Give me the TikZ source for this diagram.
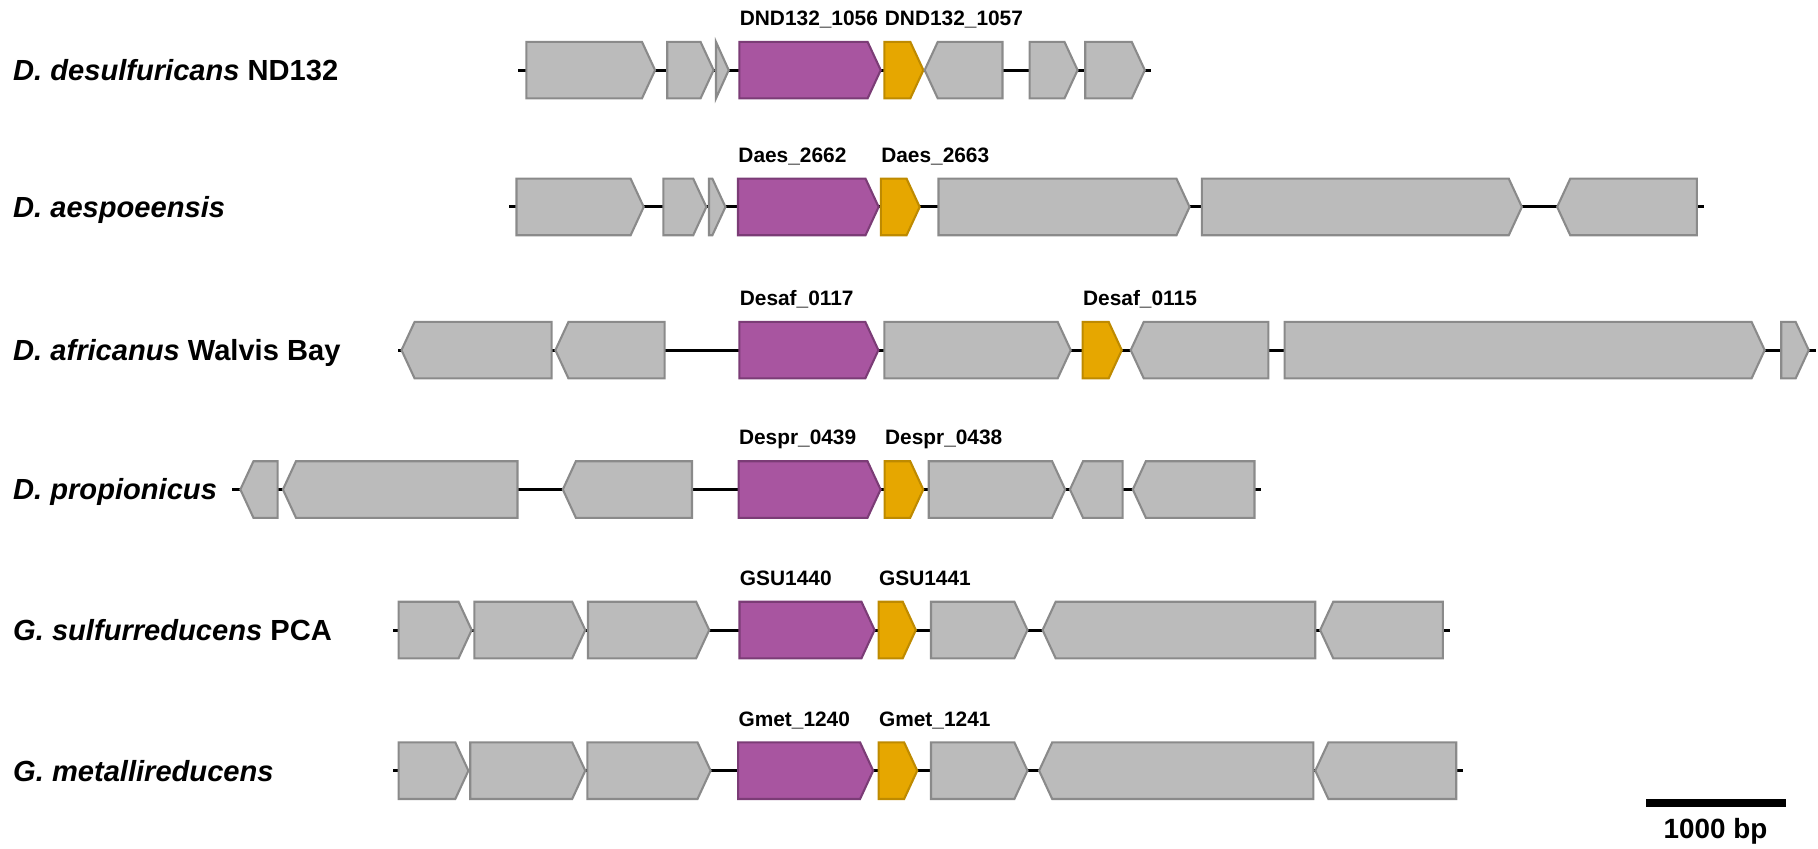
\documentclass[tikz,border=0pt]{standalone}
\usepackage{fontspec}
\setmainfont{Liberation Sans}
\usetikzlibrary{positioning}
\definecolor{genegray}{HTML}{BBBBBB}
\definecolor{edgegray}{HTML}{8A8A8A}
\definecolor{hydpurple}{HTML}{A855A0}
\definecolor{hydpurpleedge}{HTML}{7B3C76}
\definecolor{hydorange}{HTML}{E6A700}
\definecolor{hydorangeedge}{HTML}{BE8A00}

% forward / reverse gene arrow: style, left x, right x, row y
\newcommand{\gfwd}[4]{%
  \pgfmathsetmacro{\gsh}{max(#2,#3-11.3)}
  \draw[#1] (#2,#4-24.4) -- (\gsh,#4-24.4) -- (#3,#4) -- (\gsh,#4+24.4) -- (#2,#4+24.4) -- cycle;}
\newcommand{\grev}[4]{%
  \pgfmathsetmacro{\gsh}{min(#3,#2+11.3)}
  \draw[#1] (#3,#4-24.4) -- (\gsh,#4-24.4) -- (#2,#4) -- (\gsh,#4+24.4) -- (#3,#4+24.4) -- cycle;}

\begin{document}
\begin{tikzpicture}[x=0.5pt, y=-0.5pt,
  othergene/.style={fill=genegray, draw=edgegray, line width=0.9pt, line join=miter},
  purplegene/.style={fill=hydpurple, draw=hydpurpleedge, line width=0.9pt},
  orangegene/.style={fill=hydorange, draw=hydorangeedge, line width=0.9pt},
  backbone/.style={line width=1.3pt, black},
  species/.style={font=\fontsize{12.55}{14}\selectfont\bfseries, anchor=base west, inner sep=0pt},
  genelab/.style={font=\fontsize{9}{11}\selectfont\bfseries, anchor=base west, inner sep=0pt}]
  \useasboundingbox (0,0) rectangle (1568,732);

  % D. desulfuricans ND132
  \node[species] (sp1) at (11,69.5) {\textit{D. desulfuricans} ND132};
  \coordinate (b1s) at (447,60.5); \coordinate (b1e) at (993,60.5);
  \draw[backbone] (b1s) -- (b1e);
  \gfwd{othergene}{454}{565}{60.5}
  \gfwd{othergene}{575.5}{615.5}{60.5}
  \gfwd{othergene}{617.5}{628.5}{60.5}
  \gfwd{purplegene}{637.7}{759.6}{60.5}
  \gfwd{orangegene}{762.8}{796.4}{60.5}
  \grev{othergene}{797.5}{864.6}{60.5}
  \gfwd{othergene}{888}{929.4}{60.5}
  \gfwd{othergene}{936}{987.4}{60.5}
  \node[genelab] (l1a) at (637.7,22) {DND132\_1056};
  \node[genelab] (l1b) at (762.8,22) {DND132\_1057};

  % D. aespoeensis
  \node[species] (sp2) at (11,187.5) {\textit{D. aespoeensis}};
  \coordinate (b2s) at (439,178.5); \coordinate (b2e) at (1470,178.5);
  \draw[backbone] (b2s) -- (b2e);
  \gfwd{othergene}{445.5}{555.2}{178.5}
  \gfwd{othergene}{572.2}{609.2}{178.5}
  \gfwd{othergene}{611.5}{625.7}{178.5}
  \gfwd{purplegene}{636.5}{757.8}{178.5}
  \gfwd{orangegene}{759.7}{793.2}{178.5}
  \gfwd{othergene}{809.4}{1026}{178.5}
  \gfwd{othergene}{1036.6}{1312.6}{178.5}
  \grev{othergene}{1343}{1463.5}{178.5}
  \node[genelab] (l2a) at (636.5,140) {Daes\_2662};
  \node[genelab] (l2b) at (759.7,140) {Daes\_2663};

  % D. africanus Walvis Bay
  \node[species] (sp3) at (11,311) {\textit{D. africanus} Walvis Bay};
  \coordinate (b3s) at (343.5,302); \coordinate (b3e) at (1566,302);
  \draw[backbone] (b3s) -- (b3e);
  \grev{othergene}{346.3}{475.8}{302}
  \grev{othergene}{479}{573.2}{302}
  \gfwd{purplegene}{637.7}{757.6}{302}
  \gfwd{othergene}{762.8}{923.5}{302}
  \gfwd{orangegene}{933.8}{967.5}{302}
  \grev{othergene}{975.2}{1094}{302}
  \gfwd{othergene}{1108}{1522}{302}
  \gfwd{othergene}{1536.3}{1560}{302}
  \node[genelab] (l3a) at (637.7,263.5) {Desaf\_0117};
  \node[genelab] (l3b) at (933.8,263.5) {Desaf\_0115};

  % D. propionicus
  \node[species] (sp4) at (11,431.2) {\textit{D. propionicus}};
  \coordinate (b4s) at (200.3,422.2); \coordinate (b4e) at (1088,422.2);
  \draw[backbone] (b4s) -- (b4e);
  \grev{othergene}{207.3}{239.4}{422.2}
  \grev{othergene}{244}{446.3}{422.2}
  \grev{othergene}{485.4}{596.8}{422.2}
  \gfwd{purplegene}{637}{759.5}{422.2}
  \gfwd{orangegene}{763}{796.3}{422.2}
  \gfwd{othergene}{801}{918.7}{422.2}
  \grev{othergene}{922.8}{968.3}{422.2}
  \grev{othergene}{977}{1082}{422.2}
  \node[genelab] (l4a) at (637,383.7) {Despr\_0439};
  \node[genelab] (l4b) at (763,383.7) {Despr\_0438};

  % G. sulfurreducens PCA
  \node[species] (sp5) at (11,552.4) {\textit{G. sulfurreducens} PCA};
  \coordinate (b5s) at (339,543.4); \coordinate (b5e) at (1251,543.4);
  \draw[backbone] (b5s) -- (b5e);
  \gfwd{othergene}{343.8}{406.8}{543.4}
  \gfwd{othergene}{409.2}{504.8}{543.4}
  \gfwd{othergene}{507.1}{611.7}{543.4}
  \gfwd{purplegene}{637.8}{754.3}{543.4}
  \gfwd{orangegene}{757.8}{789.9}{543.4}
  \gfwd{othergene}{803}{886.2}{543.4}
  \grev{othergene}{899.2}{1134.4}{543.4}
  \grev{othergene}{1138.6}{1244.4}{543.4}
  \node[genelab] (l5a) at (637.8,504.9) {GSU1440};
  \node[genelab] (l5b) at (757.8,504.9) {GSU1441};

  % G. metallireducens
  \node[species] (sp6) at (11,673.7) {\textit{G. metallireducens}};
  \coordinate (b6s) at (339,664.7); \coordinate (b6e) at (1262,664.7);
  \draw[backbone] (b6s) -- (b6e);
  \gfwd{othergene}{343.8}{404}{664.7}
  \gfwd{othergene}{405.6}{504.8}{664.7}
  \gfwd{othergene}{506.6}{612.9}{664.7}
  \gfwd{purplegene}{636.6}{753.1}{664.7}
  \gfwd{orangegene}{757.8}{791.1}{664.7}
  \gfwd{othergene}{803}{886.2}{664.7}
  \grev{othergene}{896.2}{1132.7}{664.7}
  \grev{othergene}{1134.4}{1256}{664.7}
  \node[genelab] (l6a) at (636.6,626.2) {Gmet\_1240};
  \node[genelab] (l6b) at (757.8,626.2) {Gmet\_1241};

  % scale bar
  \coordinate (sbl) at (1419.7,692.6); \coordinate (sbr) at (1540.2,692.6);
  \draw[line width=3.15pt] (sbl) -- (sbr);
  \node[font=\fontsize{12}{14}\selectfont\bfseries, anchor=base, inner sep=0pt] (sblab) at (1479.6,723) {1000 bp};
\end{tikzpicture}
\end{document}
